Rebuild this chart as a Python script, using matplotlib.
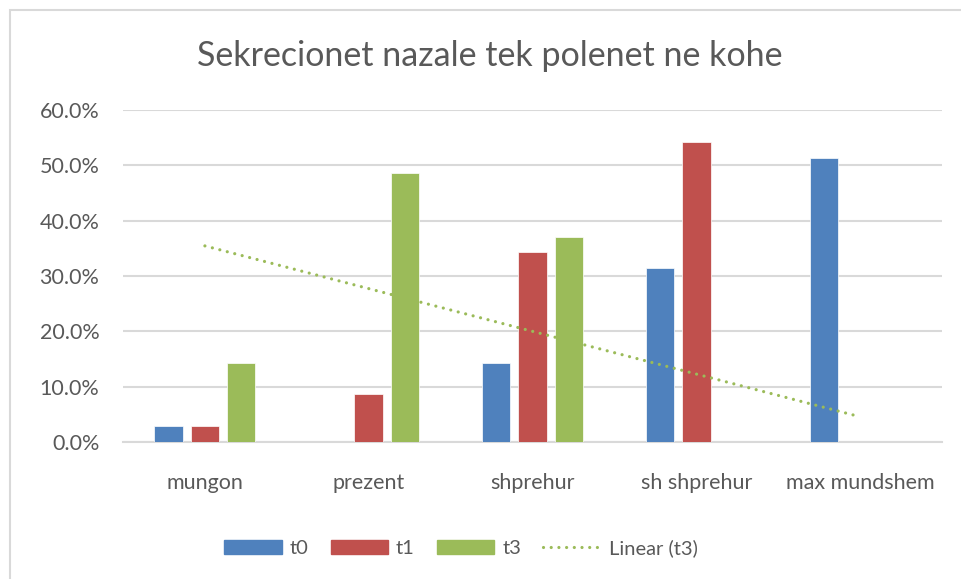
import numpy as np
import matplotlib.pyplot as plt
from matplotlib.lines import Line2D
from matplotlib.patches import Patch, Rectangle
from matplotlib.ticker import PercentFormatter

plt.rcParams['font.family'] = ['Lato', 'DejaVu Sans']

categories = ['mungon', 'prezent', 'shprehur', 'sh shprehur', 'max mundshem']
t0 = [0.029, 0.0, 0.143, 0.314, 0.514]
t1 = [0.029, 0.086, 0.343, 0.543, 0.0]
t3 = [0.143, 0.486, 0.371, 0.0, 0.0]
series_names = ['t0', 't1', 't3']
colors = ['#4f81bd', '#c0504d', '#9bbb59']
text_col = '#595959'
grid_col = '#d9d9d9'

fig = plt.figure(figsize=(9.61, 5.79), dpi=100)
ax = fig.add_axes([123 / 961, 1 - 442 / 579, (942 - 123) / 961, (442 - 110) / 579])

# chart border like excel
fig.patches.append(Rectangle((10 / 961, -0.1), 1.2, 1 - 10 / 579 + 0.1,
                             transform=fig.transFigure, fill=False,
                             edgecolor=grid_col, linewidth=1.5))

x = np.arange(len(categories))
w = 1 / 5.73
step = w * 1.27
for i, (vals, c) in enumerate(zip([t0, t1, t3], colors)):
    ax.bar(x + (i - 1) * step, vals, width=w, color=c, edgecolor='white',
           linewidth=0.5, zorder=3)

# linear trendline for t3
dots = (0, (0.01, 2.4))
k, b = np.polyfit(x, t3, 1)
ax.plot(x, k * x + b, color=colors[2], linewidth=2.3, linestyle=dots,
        dash_capstyle='round', zorder=4)

ax.set_xlim(-0.5, len(categories) - 0.5)
ax.set_ylim(0, 0.6)
ax.set_yticks(np.arange(0, 0.61, 0.1))
ax.yaxis.set_major_formatter(PercentFormatter(1.0, decimals=1))
ax.set_xticks(x)
ax.set_xticklabels(categories)
ax.tick_params(axis='both', length=0, labelsize=15.5, labelcolor=text_col)
ax.tick_params(axis='x', pad=22)
ax.tick_params(axis='y', pad=17)
ax.grid(axis='y', color=grid_col, linewidth=1.5, zorder=0)
for s in ['top', 'right', 'left']:
    ax.spines[s].set_visible(False)
ax.spines['bottom'].set_color(grid_col)
ax.spines['bottom'].set_linewidth(1.5)

fig.text(490 / 961, 1 - 56 / 579, 'Sekrecionet nazale tek polenet ne kohe',
         ha='center', va='center', fontsize=24.5, color=text_col)

handles = [Patch(color=c) for c in colors]
handles.append(Line2D([0], [0], color=colors[2], linewidth=2.3,
                      linestyle=dots, dash_capstyle='round'))
fig.legend(handles, series_names + ['Linear (t3)'], loc='center',
           bbox_to_anchor=(461 / 961, 1 - 548 / 579), ncol=4, frameon=False,
           fontsize=14.5, labelcolor=text_col, handlelength=2.85,
           handletextpad=0.4, columnspacing=1.1)

fig.savefig('out.png', dpi=100)
